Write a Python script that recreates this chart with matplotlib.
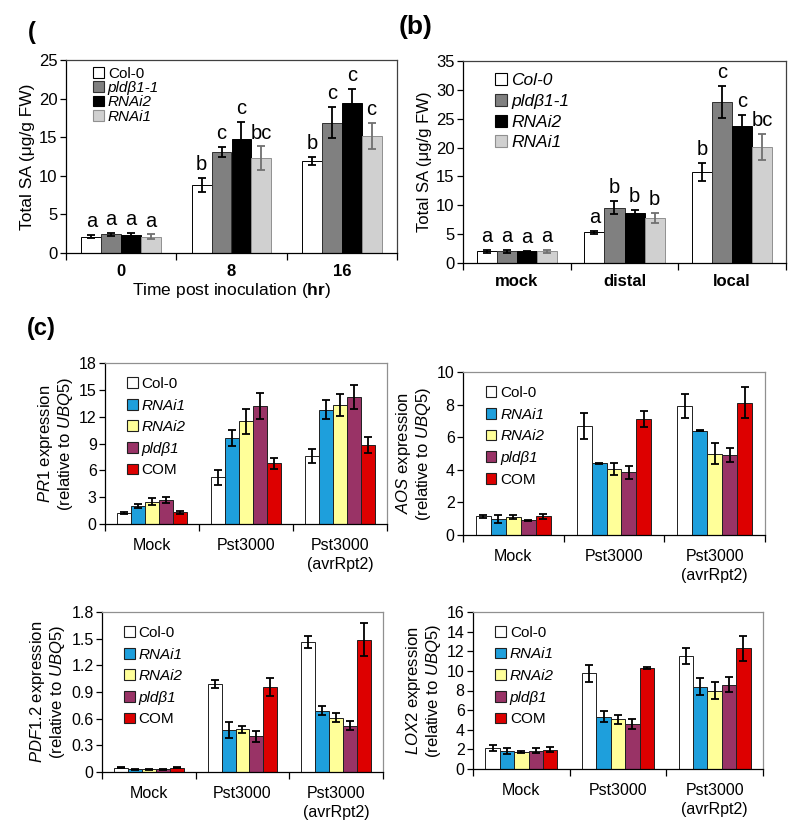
import matplotlib
matplotlib.use("Agg")
import matplotlib.pyplot as plt
from matplotlib.patches import Patch
import numpy as np

plt.rcParams['font.family'] = ['Liberation Sans', 'DejaVu Sans']
plt.rcParams['mathtext.fontset'] = 'custom'
plt.rcParams['mathtext.rm'] = 'Liberation Sans'
plt.rcParams['mathtext.it'] = 'Liberation Sans:italic'
plt.rcParams['mathtext.bf'] = 'Liberation Sans:bold'

# ---------------- Panel (a) ----------------
a_categories = ["0", "8", "16"]
a_genotypes = ["Col-0", "pldβ1-1", "RNAi2", "RNAi1"]
a_values = [[2.1, 8.8, 11.9],
            [2.4, 13.1, 16.9],
            [2.3, 14.8, 19.4],
            [2.1, 12.3, 15.2]]
a_errors = [[0.2, 0.9, 0.5],
            [0.2, 0.6, 2.0],
            [0.3, 2.2, 1.8],
            [0.3, 1.5, 1.7]]
a_letters = [["a", "b", "b"],
             ["a", "c", "c"],
             ["a", "c", "c"],
             ["a", "bc", "c"]]

# ---------------- Panel (b) ----------------
b_categories = ["mock", "distal", "local"]
b_genotypes = ["Col-0", "pldβ1-1", "RNAi2", "RNAi1"]
b_values = [[2.0, 5.3, 15.8],
            [2.0, 9.6, 27.9],
            [2.0, 8.7, 23.8],
            [2.0, 7.8, 20.1]]
b_errors = [[0.3, 0.2, 1.6],
            [0.2, 1.1, 2.8],
            [0.1, 0.5, 1.8],
            [0.2, 0.9, 2.3]]
b_letters = [["a", "a", "b"],
             ["a", "b", "c"],
             ["a", "b", "c"],
             ["a", "b", "bc"]]

# ---------------- Panel (c) ----------------
c_categories = ["Mock", "Pst3000", "Pst3000\n(avrRpt2)"]
c_genotypes = ["Col-0", "RNAi1", "RNAi2", "pldβ1", "COM"]

pr1_values = [[1.2, 5.2, 7.6], [2.0, 9.6, 12.8], [2.5, 11.5, 13.3],
              [2.7, 13.2, 14.2], [1.3, 6.8, 8.8]]
pr1_errors = [[0.1, 0.8, 0.8], [0.2, 0.9, 1.1], [0.4, 1.4, 1.2],
              [0.3, 1.5, 1.3], [0.2, 0.6, 0.9]]

aos_values = [[1.15, 6.7, 7.9], [1.0, 4.4, 6.4], [1.1, 4.05, 5.0],
              [0.9, 3.85, 4.9], [1.15, 7.1, 8.1]]
aos_errors = [[0.1, 0.8, 0.75], [0.25, 0.03, 0.05], [0.1, 0.35, 0.65],
              [0.05, 0.4, 0.45], [0.15, 0.5, 0.95]]

pdf_values = [[0.05, 0.99, 1.46], [0.03, 0.47, 0.69], [0.03, 0.48, 0.61],
              [0.03, 0.40, 0.52], [0.05, 0.96, 1.49]]
pdf_errors = [[0.005, 0.05, 0.07], [0.005, 0.09, 0.05], [0.005, 0.04, 0.05],
              [0.005, 0.06, 0.05], [0.005, 0.10, 0.19]]

lox_values = [[2.1, 9.75, 11.5], [1.8, 5.35, 8.4], [1.75, 5.05, 8.0],
              [1.85, 4.55, 8.6], [1.95, 10.25, 12.3]]
lox_errors = [[0.3, 0.85, 0.85], [0.3, 0.6, 0.9], [0.1, 0.5, 0.9],
              [0.25, 0.5, 0.8], [0.25, 0.1, 1.3]]

ab_colors = ["#ffffff", "#808080", "#000000", "#d0d0d0"]
ab_edges = ["#000000", "#303030", "#000000", "#909090"]
ab_ecolors = ["#000000", "#000000", "#000000", "#707070"]
c_colors = ["#ffffff", "#1e9fdc", "#ffff99", "#993366", "#dd0000"]

W, H = 800, 834
fig = plt.figure(figsize=(W / 100, H / 100), dpi=100)


def add_ax(l, t, r, b):
    return fig.add_axes([l / W, 1 - b / H, (r - l) / W, (b - t) / H])


def style_axes(ax, frame_color, ylabelsize):
    for s in ["top", "right"]:
        ax.spines[s].set_color(frame_color)
        ax.spines[s].set_linewidth(0.9)
    for s in ["left", "bottom"]:
        ax.spines[s].set_color("black")
        ax.spines[s].set_linewidth(0.9)
    ax.set_xlim(-0.5, 2.5)
    ax.set_xticks([-0.5, 0.5, 1.5, 2.5])
    ax.set_xticklabels([])
    ax.tick_params(axis="x", which="major", direction="out", length=5, width=0.9)
    ax.tick_params(axis="y", direction="out", length=4, width=0.9,
                   labelsize=ylabelsize, pad=2)


def draw_bars(ax, values, errors, colors, edges, ecolors, width):
    n = len(values)
    x = np.arange(3)
    for i in range(n):
        xi = x + (i - (n - 1) / 2) * width
        ax.bar(xi, values[i], width, color=colors[i], edgecolor=edges[i],
               linewidth=0.7, zorder=2)
        ax.errorbar(xi, values[i], yerr=errors[i], fmt="none", ecolor=ecolors[i],
                    elinewidth=1.3, capsize=3, capthick=1.3, zorder=3)


def sq_handles(colors, edges):
    return [Patch(facecolor=c, edgecolor=e, linewidth=0.8) for c, e in zip(colors, edges)]


# ---------------- (a) ----------------
ax = add_ax(66, 60, 397, 253)
style_axes(ax, "#404040", 12)
draw_bars(ax, a_values, a_errors, ab_colors, ab_edges, ab_ecolors, 0.18)
ax.set_ylim(0, 25)
ax.set_yticks(range(0, 26, 5))
for i in range(4):
    for j in range(3):
        xi = j + (i - 1.5) * 0.18
        ax.text(xi, a_values[i][j] + a_errors[i][j] + 0.5, a_letters[i][j],
                ha="center", va="bottom", fontsize=14.5)
ax.set_xticks([0, 1, 2], minor=True)
ax.set_xticklabels(a_categories, minor=True, fontsize=12, fontweight="bold")
ax.tick_params(axis="x", which="minor", length=0, pad=8)
ax.set_xlabel(r"Time post inoculation ($\mathbf{hr}$)", fontsize=12.5, labelpad=1)
ax.set_ylabel("Total SA (μg/g FW)", fontsize=12.5, labelpad=3)
leg = ax.legend(sq_handles(ab_colors, ab_edges), a_genotypes, loc="upper left",
                bbox_to_anchor=(0.05, 1.02), frameon=False, fontsize=11,
                handlelength=0.7, handleheight=0.7, handletextpad=0.25,
                labelspacing=0.02, borderpad=0.2)
for k, t in enumerate(leg.get_texts()):
    if k > 0:
        t.set_style("italic")
fig.text(28 / W, 1 - 33 / H, "(", fontsize=17, fontweight="bold", ha="left", va="center")

# ---------------- (b) ----------------
ax = add_ax(463, 61, 786, 263)
style_axes(ax, "#404040", 12)
draw_bars(ax, b_values, b_errors, ab_colors, ab_edges, ab_ecolors, 0.186)
ax.set_ylim(0, 35)
ax.set_yticks(range(0, 36, 5))
for i in range(4):
    for j in range(3):
        xi = j + (i - 1.5) * 0.186
        ax.text(xi, b_values[i][j] + b_errors[i][j] + 0.7, b_letters[i][j],
                ha="center", va="bottom", fontsize=14.5)
ax.set_xticks([0, 1, 2], minor=True)
ax.set_xticklabels(b_categories, minor=True, fontsize=12, fontweight="bold")
ax.tick_params(axis="x", which="minor", length=0, pad=8)
ax.set_ylabel("Total SA (μg/g FW)", fontsize=12, labelpad=3)
leg = ax.legend(sq_handles(ab_colors, ab_edges), b_genotypes, loc="upper left",
                bbox_to_anchor=(0.06, 1.0), frameon=False, fontsize=12.5,
                handlelength=0.7, handleheight=0.7, handletextpad=0.25,
                labelspacing=0.32, borderpad=0.2)
for t in leg.get_texts():
    t.set_style("italic")
fig.text(399 / W, 1 - 27 / H, "(b)", fontsize=19, fontweight="bold", ha="left", va="center")

# ---------------- (c) ----------------
fig.text(27 / W, 1 - 328 / H, "(c)", fontsize=17, fontweight="bold", ha="left", va="center")


def gene_panel(box, values, errors, ylim, yticks, ytlabels, gene):
    ax = add_ax(*box)
    style_axes(ax, "#909090", 11.5)
    draw_bars(ax, values, errors, c_colors, ["#202020"] * 5, ["#000000"] * 5, 0.149)
    ax.set_ylim(*ylim)
    ax.set_yticks(yticks)
    ax.set_yticklabels(ytlabels)
    ax.set_xticks([0, 1, 2], minor=True)
    ax.set_xticklabels(c_categories, minor=True, fontsize=11.5)
    for t in ax.get_xticklabels(minor=True):
        t.set_linespacing(1.35)
    ax.tick_params(axis="x", which="minor", length=0, pad=10)
    ax.set_ylabel(r"$\mathit{" + gene + r"}$ expression" + "\n" +
                  r"(relative to $\mathit{UBQ5}$)", fontsize=12, labelpad=3,
                  linespacing=1.05)
    leg = ax.legend(sq_handles(c_colors, ["#202020"] * 5), c_genotypes, loc="upper left",
                    bbox_to_anchor=(0.04, 0.98), frameon=False, fontsize=11,
                    handlelength=0.7, handleheight=0.7, handletextpad=0.25,
                    labelspacing=0.5, borderpad=0.2)
    for k, t in enumerate(leg.get_texts()):
        if k in (1, 2, 3):
            t.set_style("italic")
    return ax


gene_panel((105, 363, 387, 524), pr1_values, pr1_errors, (0, 18), range(0, 19, 3),
           [str(v) for v in range(0, 19, 3)], "PR1")
gene_panel((463, 372, 765, 535), aos_values, aos_errors, (0, 10), range(0, 11, 2),
           [str(v) for v in range(0, 11, 2)], "AOS")
pdf_ticks = [0, 0.3, 0.6, 0.9, 1.2, 1.5, 1.8]
gene_panel((102, 612, 383, 772), pdf_values, pdf_errors, (0, 1.8), pdf_ticks,
           ["0", "0.3", "0.6", "0.9", "1.2", "1.5", "1.8"], "PDF1.2")
gene_panel((473, 612, 763, 769), lox_values, lox_errors, (0, 16), range(0, 17, 2),
           [str(v) for v in range(0, 17, 2)], "LOX2")

fig.savefig("out.png", dpi=100, facecolor="white")
